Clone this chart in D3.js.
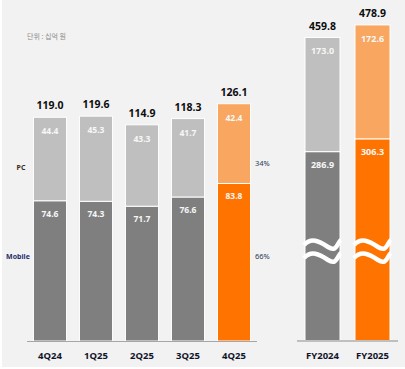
<!DOCTYPE html>
<html>
<head>
<meta charset="utf-8">
<script src="https://cdn.jsdelivr.net/npm/d3@7"></script>
<style>
  html, body { margin: 0; padding: 0; background: #fff; }
  svg { display: block; font-family: "Noto Sans", "DejaVu Sans", sans-serif; }
</style>
</head>
<body>
<svg id="chart" width="405" height="369"></svg>
<script>
// data (단위: 십억 원)
const quarters = ["4Q24", "1Q25", "2Q25", "3Q25", "4Q25"];
const qMobile = [74.6, 74.3, 71.7, 76.6, 83.8];
const qPC = [44.4, 45.3, 43.3, 41.7, 42.4];
const qTotal = [119.0, 119.6, 114.9, 118.3, 126.1];

const years = ["FY2024", "FY2025"];
const yMobile = [286.9, 306.3];
const yPC = [173.0, 172.6];
const yTotal = [459.8, 478.9];

const shares = ["34%", "66%"];

// TODO: config
const width = 405;
const height = 369;
const baseY = 341;
const grey = { mobile: "#7f7f7f", pc: "#bfbfbf" };
const orange = { mobile: "#ff7300", pc: "#f8a660" };

const svg = d3.select("#chart");

svg.append("rect")
    .attr("x", 2).attr("y", 0)
    .attr("width", width - 2).attr("height", height - 2)
    .attr("fill", "#f2f2f2");

// unit note
svg.append("text")
    .attr("x", 27).attr("y", 39)
    .attr("font-family", "'Noto Sans CJK KR', sans-serif")
    .attr("font-size", 7)
    .attr("fill", "#8c8c8c")
    .text("단위 : 십억 원");

// scales
const xQ = d3.scaleBand().domain(quarters).range([27, 257])
    .paddingInner(0.28).paddingOuter(0.14);
const yQ = d3.scaleLinear().domain([0, 130]).range([baseY, baseY - 130 * 1.88]);

const xY = d3.scaleBand().domain(years).range([297, 398])
    .paddingInner(0.3).paddingOuter(0.16);
const yY = d3.scaleLinear().domain([0, 500]).range([baseY, baseY - 500 * 0.66]);

const drawGroup = (cats, mobile, pc, total, x, y, colorFor, segSize, totalSize) => {
    const rows = cats.map((c, i) => ({ c, i, mobile: mobile[i], pc: pc[i], total: total[i] }));
    const g = svg.append("g");

    const bar = g.selectAll(".bar").data(rows)
        .enter().append("g")
        .attr("class", "bar");

    // mobile segment
    bar.append("rect")
        .attr("x", d => x(d.c))
        .attr("width", x.bandwidth())
        .attr("y", d => y(d.mobile))
        .attr("height", d => y(0) - y(d.mobile))
        .attr("fill", d => colorFor(d).mobile)
        .attr("stroke", "#fff").attr("stroke-width", 1);

    // pc segment
    bar.append("rect")
        .attr("x", d => x(d.c))
        .attr("width", x.bandwidth())
        .attr("y", d => y(d.mobile + d.pc))
        .attr("height", d => y(d.mobile) - y(d.mobile + d.pc))
        .attr("fill", d => colorFor(d).pc)
        .attr("stroke", "#fff").attr("stroke-width", 1);

    const cx = d => x(d.c) + x.bandwidth() / 2;

    bar.append("text")
        .attr("x", cx)
        .attr("y", d => y(d.mobile) + 16)
        .attr("text-anchor", "middle")
        .attr("font-size", segSize).attr("font-weight", "bold")
        .attr("fill", "#f7f7f7")
        .text(d => d.mobile.toFixed(1));

    bar.append("text")
        .attr("x", cx)
        .attr("y", d => y(d.mobile + d.pc) + 17)
        .attr("text-anchor", "middle")
        .attr("font-size", segSize).attr("font-weight", "bold")
        .attr("fill", "#f7f7f7")
        .text(d => d.pc.toFixed(1));

    bar.append("text")
        .attr("x", cx)
        .attr("y", d => y(d.total) - 8)
        .attr("text-anchor", "middle")
        .attr("font-size", totalSize).attr("font-weight", "bold")
        .attr("fill", "#0d0d0d")
        .text(d => d.total.toFixed(1));

    return { g, bar, cx };
};

const lastQ = quarters[quarters.length - 1];
const lastY = years[years.length - 1];

const q = drawGroup(quarters, qMobile, qPC, qTotal, xQ, yQ,
    d => d.c === lastQ ? orange : grey, 8.5, 10.5);
const fy = drawGroup(years, yMobile, yPC, yTotal, xY, yY,
    d => d.c === lastY ? orange : grey, 9, 10.5);

// axis break waves on FY bars
const wave = (x0, w, yc) => `
    M${x0} ${yc + 1}
    C${x0 + w * 0.2} ${yc - 7} ${x0 + w * 0.4} ${yc - 3} ${x0 + w * 0.65} ${yc + 3}
    S${x0 + w * 0.9} ${yc - 2} ${x0 + w} ${yc - 4}
`;
[244, 257].forEach(yc => {
    fy.bar.append("path")
        .attr("d", d => wave(xY(d.c) - 1, xY.bandwidth() + 2, yc))
        .attr("fill", "none")
        .attr("stroke", "#fff")
        .attr("stroke-width", 4.5);
});

// baselines
svg.append("line")
    .attr("x1", 27).attr("x2", 257)
    .attr("y1", baseY + 0.5).attr("y2", baseY + 0.5)
    .attr("stroke", "#a6a6a6").attr("stroke-width", 1);
svg.append("line")
    .attr("x1", 297).attr("x2", 398)
    .attr("y1", baseY).attr("y2", baseY)
    .attr("stroke", "#bfbfbf").attr("stroke-width", 2);

// category labels
const xLabels = (cats, x) => svg.append("g").selectAll("text").data(cats)
    .enter().append("text")
    .attr("x", d => x(d) + x.bandwidth() / 2)
    .attr("y", 359)
    .attr("text-anchor", "middle")
    .attr("font-size", 9.5).attr("font-weight", "bold")
    .attr("fill", "#10142a")
    .text(d => d);
xLabels(quarters, xQ);
xLabels(years, xY);

// series labels on left
svg.append("text")
    .attr("x", 21).attr("y", 170)
    .attr("text-anchor", "middle")
    .attr("font-size", 7).attr("font-weight", "bold")
    .attr("fill", "#3a2a1a")
    .text("PC");
svg.append("text")
    .attr("x", 18).attr("y", 259)
    .attr("text-anchor", "middle")
    .attr("font-size", 7).attr("font-weight", "bold")
    .attr("fill", "#1f2d6a")
    .text("Mobile");

// share labels next to 4Q25
svg.append("g").selectAll("text").data(shares)
    .enter().append("text")
    .attr("x", 255)
    .attr("y", (d, i) => i === 0 ? 166 : 259)
    .attr("font-size", 7.5)
    .attr("fill", "#2b3a55")
    .text(d => d);
</script>
</body>
</html>
